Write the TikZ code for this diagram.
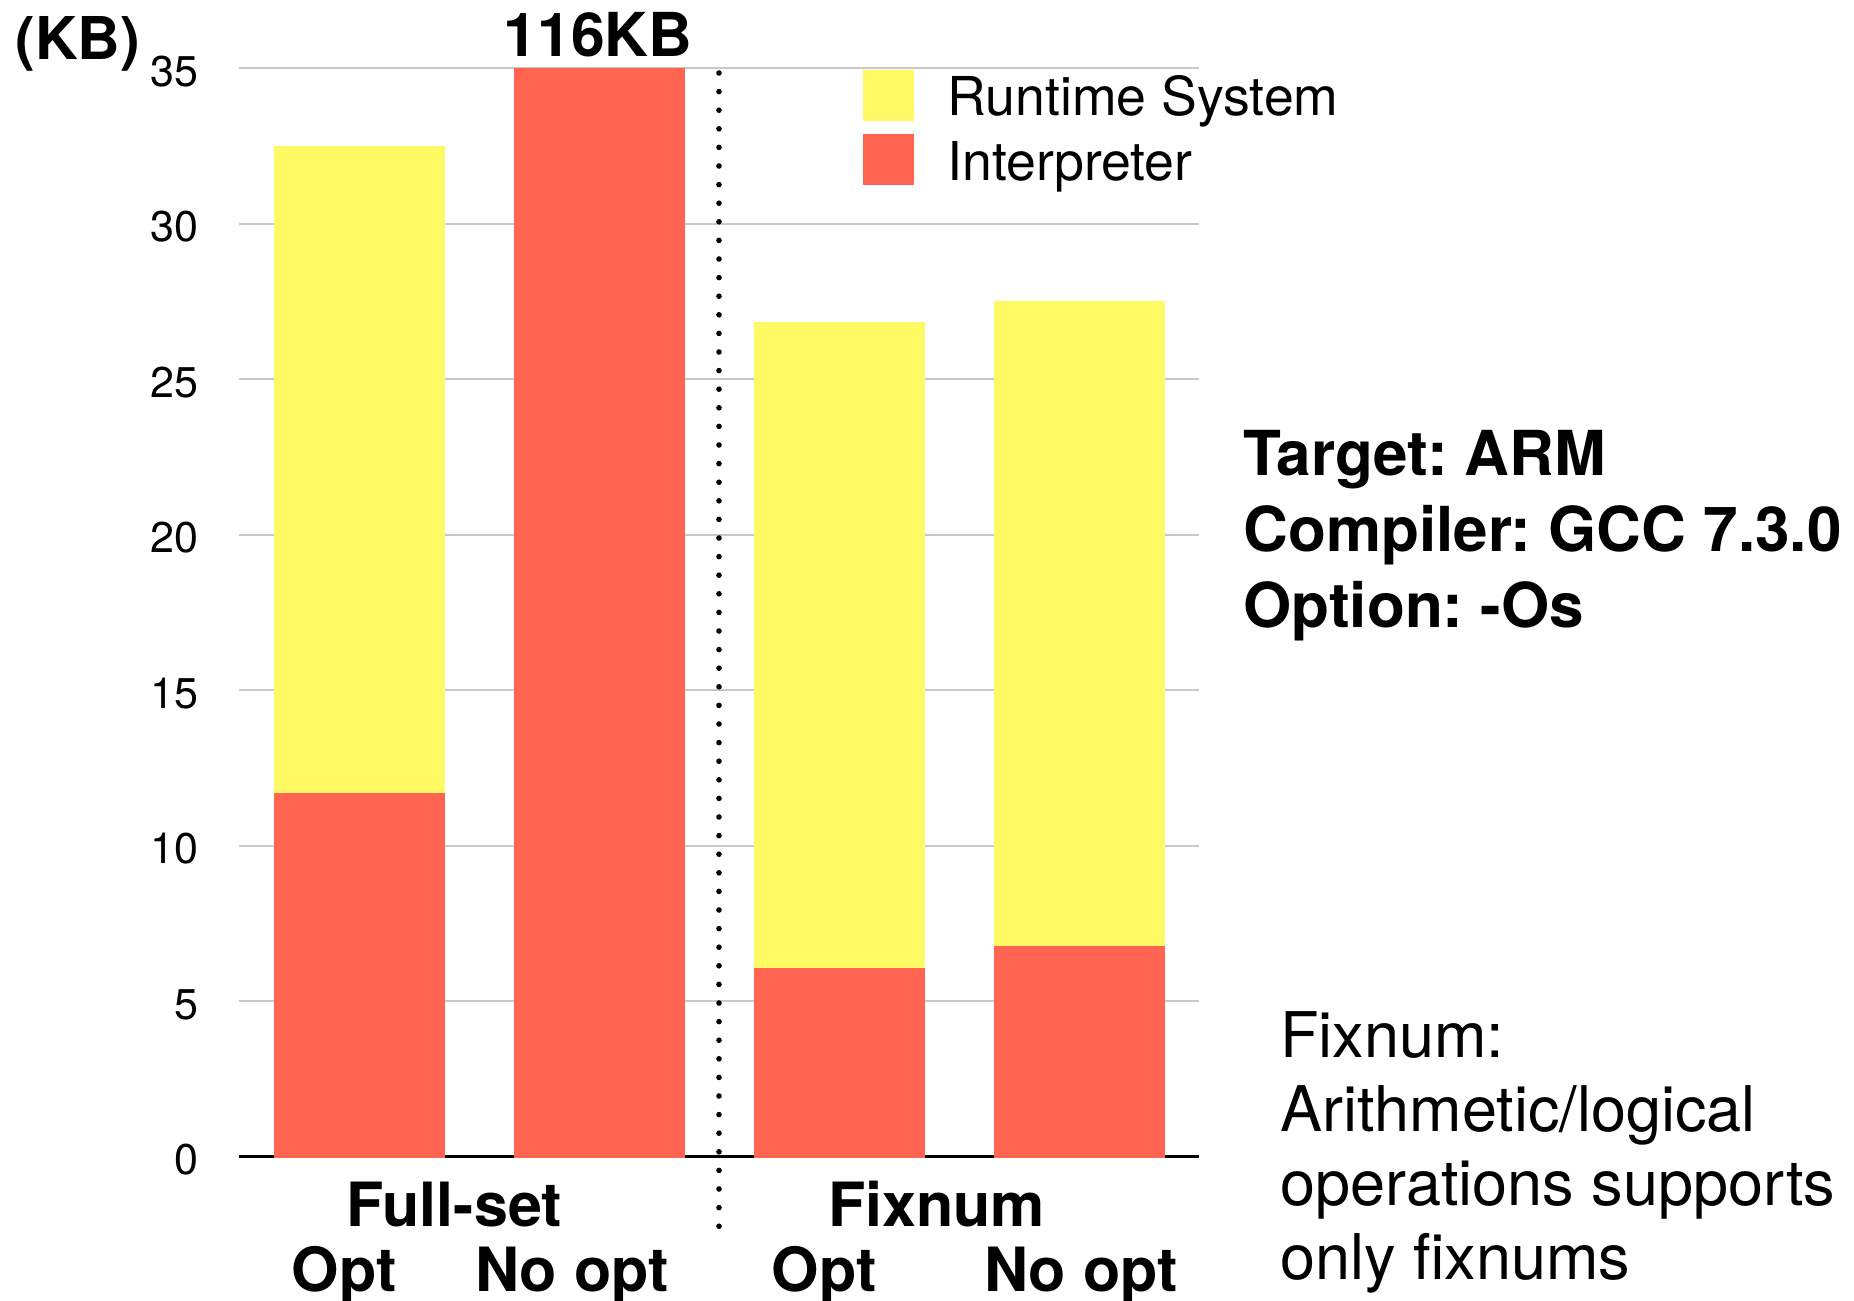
\documentclass[tikz,border=0pt]{standalone}
\usepackage{fontspec}
\setmainfont{TeX Gyre Heros}
\frenchspacing
\definecolor{rtyellow}{RGB}{255,250,100}
\definecolor{interp}{RGB}{255,100,80}
\definecolor{gridgray}{RGB}{200,200,200}
\tikzset{
  gridline/.style={draw=gridgray, line width=1pt},
  axisline/.style={draw=black, line width=1.25pt},
  ticklabel/.style={anchor=base east, inner sep=0pt, font=\fontsize{21.5}{25}\selectfont},
  catlabel/.style={anchor=base, inner sep=0pt, font=\fontsize{30.5}{36}\selectfont\bfseries},
  infolabel/.style={anchor=base west, inner sep=0pt, font=\fontsize{31}{36}\selectfont\bfseries},
  notelabel/.style={anchor=base west, inner sep=0pt, font=\fontsize{31.5}{37}\selectfont},
  legendlabel/.style={anchor=base west, inner sep=0pt, font=\fontsize{26.8}{32}\selectfont},
  separator/.style={line width=2.8pt, line cap=round, dash pattern=on 0pt off 9.3pt}
}
\begin{document}
\begin{tikzpicture}[x=0.5pt, y=-0.5pt]
\useasboundingbox (0,0) rectangle (1854,1301);
% value v (KB) sits at y = 1156.7 - 31.1 v
\def\yv#1{(1156.7-31.1*(#1))}

% horizontal grid lines and tick labels
\foreach \v in {5,10,...,35} {
  \draw[gridline] (239,{\yv{\v}}) -- (1199,{\yv{\v}});
  \node[ticklabel] (tick\v) at (199,{\yv{\v}+18}) {\v};
}
\draw[axisline] (239,{\yv{0}}) -- (1199,{\yv{0}});
\node[ticklabel] (tick0) at (199,{\yv{0}+18}) {0};

% stacked bars: interpreter below, runtime system above
\fill[interp]   (274,1158) rectangle (445,{\yv{11.7}});
\fill[rtyellow] (274,{\yv{11.7}}) rectangle (445,{\yv{32.5}});
\fill[interp]   (514,1158) rectangle (685,{\yv{35}});
\fill[interp]   (754,1158) rectangle (925,{\yv{6.06}});
\fill[rtyellow] (754,{\yv{6.06}}) rectangle (925,{\yv{26.85}});
\fill[interp]   (994,1158) rectangle (1165,{\yv{6.78}});
\fill[rtyellow] (994,{\yv{6.78}}) rectangle (1165,{\yv{27.5}});

% dotted separator between the two groups
\coordinate (septop) at (719,73);
\coordinate (sepbot) at (719,1228);
\draw[separator] (septop) -- (sepbot);

% unit and overflow labels
\node[anchor=base west, inner sep=0pt, font=\fontsize{29.5}{34}\selectfont\bfseries] (unit) at (15,59) {(KB)};
\node[anchor=base, inner sep=0pt, font=\fontsize{30.3}{35}\selectfont\bfseries] (overflow) at (598,56) {116KB};

% legend
\fill[rtyellow] (863,70) rectangle (914,121);
\fill[interp]   (863,134) rectangle (914,185);
\node[legendlabel] (legrt) at (947,115) {Runtime System};
\node[legendlabel] (legin) at (947,180) {Interpreter};

% category labels
\node[catlabel] (full) at (454.5,1226) {Full-set};
\node[catlabel] (fullopt) at (344,1291) {Opt};
\node[catlabel] (fullno) at (572,1291) {No opt};
\node[catlabel] (fix) at (936.7,1226) {Fixnum};
\node[catlabel] (fixopt) at (824,1291) {Opt};
\node[catlabel] (fixno) at (1081,1291) {No opt};

% build settings
\node[infolabel] (target) at (1243,475) {Target: ARM};
\node[infolabel] (compiler) at (1243,551) {Compiler: GCC 7.3.0};
\node[infolabel] (option) at (1243,627) {Option: -Os};

% note on the fixnum variant
\node[notelabel] (note1) at (1280,1057) {Fixnum:};
\node[notelabel] (note2) at (1280,1131) {Arithmetic/logical};
\node[notelabel] (note3) at (1280,1205) {operations supports};
\node[notelabel] (note4) at (1280,1279) {only fixnums};
\end{tikzpicture}
\end{document}
